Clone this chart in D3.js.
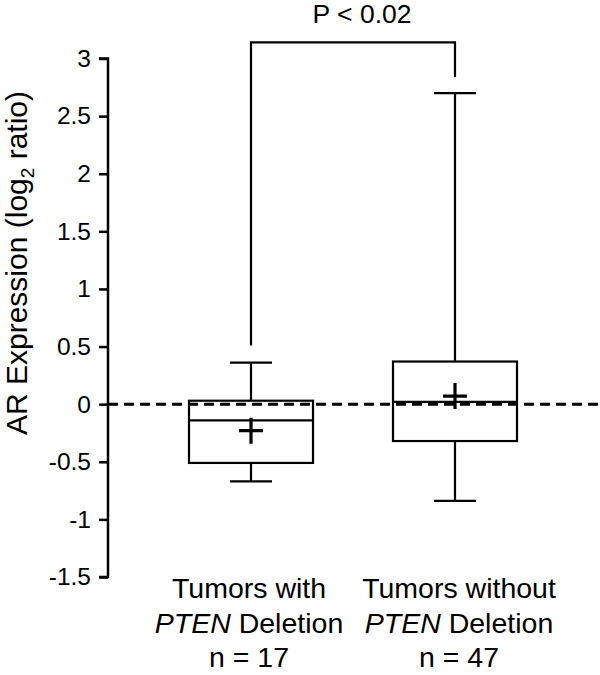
<!DOCTYPE html>
<html>
<head>
<meta charset="utf-8">
<script src="https://cdn.jsdelivr.net/npm/d3@7"></script>
<style>
  body { margin: 0; background: #fff; }
  svg { display: block; font-family: "Liberation Sans", Arial, sans-serif; }
</style>
</head>
<body>
<div id="chart"></div>
<script>
// Box summary per group
const groups = ["with", "without"];
const labelLines = [
  [["Tumors with"], [["PTEN", true], [" Deletion", false]], ["n = 17"]],
  [["Tumors without"], [["PTEN", true], [" Deletion", false]], ["n = 47"]]
];
const whiskerHigh = [0.36, 2.70];
const q3 = [0.03, 0.37];
const median = [-0.14, 0.02];
const mean = [-0.23, 0.07];
const q1 = [-0.51, -0.32];
const whiskerLow = [-0.67, -0.84];
const yTicks = [3, 2.5, 2, 1.5, 1, 0.5, 0, -0.5, -1, -1.5];
// significance bracket: top and the two leg ends, in data units
const bracketTop = 3.14;
const bracketEnds = [0.51, 2.84];
const pLabel = "P < 0.02";

const width = 600, height = 675;

const svg = d3.select("#chart").append("svg")
  .attr("width", width)
  .attr("height", height);

const y = d3.scaleLinear().domain([-1.5, 3]).range([577, 58.5]);
const x = d3.scalePoint().domain(groups).range([251, 455]);

const boxW = 124, capW = 42;

// y axis
const axis = svg.append("g")
  .attr("transform", "translate(108,0)")
  .call(d3.axisLeft(y).tickValues(yTicks).tickSize(9).tickPadding(8).tickFormat(d => String(d)));
axis.select(".domain").attr("d", `M-9,${y(3)}H0V${y(-1.5)}H-9`).attr("stroke-width", 2.5);
axis.selectAll(".tick line").attr("stroke-width", 2.5);
axis.selectAll(".tick text")
  .attr("font-size", 24.5)
  .attr("fill", "#000")
  .attr("font-family", "Liberation Sans, Arial, sans-serif");

// y label
svg.append("text")
  .attr("transform", `translate(27,263) rotate(-90)`)
  .attr("text-anchor", "middle")
  .attr("font-size", 30)
  .call(t => {
    t.append("tspan").text("AR Expression (log");
    t.append("tspan").text("2").attr("font-size", 19).attr("dy", 7);
    t.append("tspan").text(" ratio)").attr("dy", -7);
  });

// zero line
svg.append("line")
  .attr("x1", 108).attr("x2", width)
  .attr("y1", y(0)).attr("y2", y(0))
  .attr("stroke", "#000")
  .attr("stroke-width", 3)
  .attr("stroke-dasharray", "10,6");

const box = svg.append("g")
  .attr("stroke", "#000")
  .attr("fill", "none")
  .attr("stroke-width", 2.2)
  .selectAll("g")
  .data(groups)
  .join("g");

box.append("line")
  .attr("x1", d => x(d)).attr("x2", d => x(d))
  .attr("y1", (d, i) => y(whiskerHigh[i])).attr("y2", (d, i) => y(q3[i]));
box.append("line")
  .attr("x1", d => x(d)).attr("x2", d => x(d))
  .attr("y1", (d, i) => y(q1[i])).attr("y2", (d, i) => y(whiskerLow[i]));
box.append("line")
  .attr("x1", d => x(d) - capW / 2).attr("x2", d => x(d) + capW / 2)
  .attr("y1", (d, i) => y(whiskerHigh[i])).attr("y2", (d, i) => y(whiskerHigh[i]));
box.append("line")
  .attr("x1", d => x(d) - capW / 2).attr("x2", d => x(d) + capW / 2)
  .attr("y1", (d, i) => y(whiskerLow[i])).attr("y2", (d, i) => y(whiskerLow[i]));
box.append("rect")
  .attr("x", d => x(d) - boxW / 2)
  .attr("width", boxW)
  .attr("y", (d, i) => y(q3[i]))
  .attr("height", (d, i) => y(q1[i]) - y(q3[i]));
box.append("line")
  .attr("x1", d => x(d) - boxW / 2).attr("x2", d => x(d) + boxW / 2)
  .attr("y1", (d, i) => y(median[i])).attr("y2", (d, i) => y(median[i]));
// mean cross
box.append("path")
  .attr("stroke-width", 3.2)
  .attr("d", (d, i) => {
    const cx = x(d), cy = y(mean[i]);
    return `M${cx - 12},${cy}H${cx + 12}M${cx},${cy - 13}V${cy + 13}`;
  });

// bracket
svg.append("path")
  .attr("fill", "none")
  .attr("stroke", "#000")
  .attr("stroke-width", 2.2)
  .attr("d", `M${x(groups[0])},${y(bracketEnds[0])}V${y(bracketTop)}H${x(groups[1])}V${y(bracketEnds[1])}`);

svg.append("text")
  .attr("x", 362).attr("y", 23)
  .attr("text-anchor", "middle")
  .attr("font-size", 26.5)
  .text(pLabel);

// category labels
const cat = svg.append("g")
  .selectAll("text")
  .data(groups)
  .join("text")
  .attr("text-anchor", "middle")
  .attr("font-size", 28.5)
  .attr("transform", (d, i) => `translate(${x(d) + (i ? 4 : -2)},0)`);

cat.each(function(d, i) {
  const t = d3.select(this);
  labelLines[i].forEach((line, j) => {
    const baseY = 598 + j * 34.5;
    if (typeof line[0] === "string") {
      t.append("tspan").attr("x", 0).attr("y", baseY).text(line[0]);
    } else {
      const first = t.append("tspan").attr("x", 0).attr("y", baseY);
      line.forEach(([s, it]) => {
        first.append("tspan").text(s).attr("font-style", it ? "italic" : "normal");
      });
    }
  });
});
</script>
</body>
</html>
